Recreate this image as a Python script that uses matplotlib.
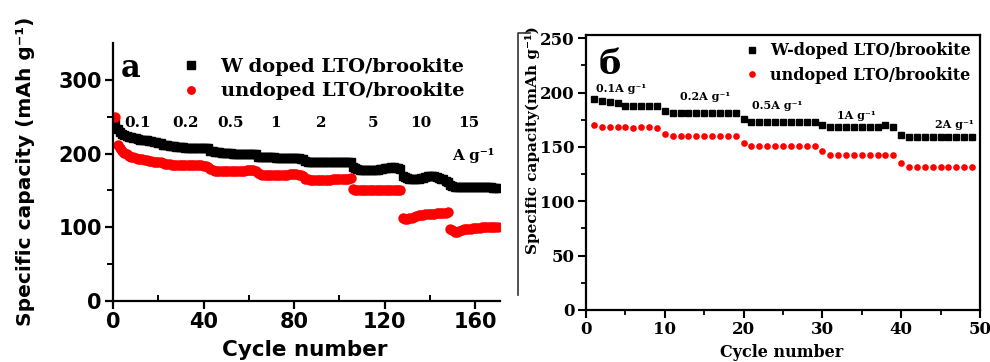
import matplotlib
matplotlib.use("Agg")
import matplotlib.pyplot as plt
from matplotlib.lines import Line2D

# ---- panel a: long cycling at increasing current density ----
cycles_a = list(range(1, 171))

w_doped_a = [
    # 0.1 A/g (1-21)
    240, 233, 229, 227, 225, 224, 223, 222, 221, 221, 220, 219, 219, 218, 218,
    217, 217, 216, 216, 215, 215,
    # 0.2 A/g (22-42)
    212, 211, 211, 210, 210, 210, 209, 209, 209, 209, 208, 208, 208, 208, 208,
    207, 207, 207, 207, 207, 207,
    # 0.5 A/g (43-63)
    204, 203, 202, 202, 202, 201, 201, 201, 201, 201, 200, 200, 200, 200, 200,
    200, 200, 200, 199, 199, 199,
    # 1 A/g (64-84)
    196, 195, 195, 195, 195, 195, 195, 195, 194, 194, 194, 194, 194, 194, 194,
    194, 194, 194, 194, 193, 193,
    # 2 A/g (85-105)
    190, 189, 189, 189, 189, 189, 189, 189, 189, 189, 189, 189, 188, 188, 188,
    188, 188, 188, 188, 188, 188,
    # 5 A/g (106-127)
    182, 180, 179, 178, 178, 178, 178, 178, 178, 178, 178, 178, 179, 179, 180,
    180, 181, 182, 182, 181, 180, 179,
    # 10 A/g (128-148)
    170, 168, 167, 166, 166, 166, 166, 166, 167, 167, 168, 169, 170, 170, 169,
    168, 167, 166, 165, 163, 161,
    # 15 A/g (149-170)
    158, 156, 155, 155, 155, 155, 155, 154, 154, 154, 154, 154, 154, 154, 154,
    154, 154, 154, 154, 153, 153, 153,
]

undoped_a = [
    249, 212, 207, 204, 201, 199, 197, 196, 195, 194, 193, 192, 192, 191, 191,
    190, 190, 189, 189, 188, 188,
    187, 186, 186, 186, 185, 185, 185, 185, 185, 185, 185, 185, 185, 184, 184,
    184, 184, 184, 183, 183, 182,
    179, 178, 177, 177, 176, 176, 176, 176, 176, 176, 176, 176, 176, 177, 177,
    177, 178, 178, 178, 178, 177,
    173, 172, 171, 171, 171, 171, 171, 171, 171, 171, 171, 171, 171, 171, 172,
    172, 172, 172, 171, 171, 170,
    166, 165, 164, 164, 164, 164, 164, 164, 164, 164, 164, 164, 165, 165, 165,
    165, 165, 166, 166, 166, 167,
    152, 151, 150, 150, 150, 150, 150, 150, 150, 150, 150, 150, 150, 150, 150,
    150, 150, 150, 150, 150, 151, 151,
    112, 111, 111, 112, 113, 114, 115, 116, 117, 117, 118, 118, 118, 118, 118,
    119, 119, 119, 120, 120, 121,
    98, 96, 94, 94, 95, 96, 97, 97, 98, 98, 99, 99, 99, 99, 100,
    100, 100, 100, 100, 101, 101, 101,
]

rates_a = ["0.1", "0.2", "0.5", "1", "2", "5", "10", "15"]
rate_pos_a = [11, 32, 52, 72, 92, 115, 136, 157]

# ---- panel б: rate test, 10 cycles per current ----
cycles_b = list(range(1, 50))

w_doped_b = [
    194, 192, 191, 190, 188, 188, 188, 188, 188,
    183, 181, 181, 181, 181, 181, 181, 181, 181, 181,
    176, 173, 173, 173, 173, 173, 173, 173, 173, 173,
    170, 168, 168, 168, 168, 168, 168, 168, 170, 168,
    161, 159, 159, 159, 159, 159, 159, 159, 159, 159,
]

undoped_b = [
    170, 168, 168, 168, 168, 167, 168, 168, 167,
    162, 160, 160, 160, 160, 160, 160, 160, 160, 160,
    154, 151, 151, 151, 151, 151, 151, 151, 151, 151,
    146, 143, 143, 143, 143, 143, 143, 143, 143, 143,
    135, 132, 132, 132, 132, 132, 132, 132, 132, 132,
]

rates_b = ["0.1A g⁻¹", "0.2A g⁻¹", "0.5A g⁻¹", "1A g⁻¹", "2A g⁻¹"]
rate_x_b = [1.3, 11.9, 21.1, 31.9, 44.3]
rate_y_b = [204, 196, 188, 179, 171]

SANS = "DejaVu Sans"
SERIF = "DejaVu Serif"

fig = plt.figure(figsize=(9.9, 3.62), dpi=100)

# ---------------- panel a ----------------
ax1 = fig.add_axes([113 / 990, 1 - 301 / 362, 387 / 990, 258 / 362])
ax1.plot(cycles_a, w_doped_a, ls="none", marker="s", ms=6, color="black",
         label="W doped LTO/brookite")
ax1.plot(cycles_a, undoped_a, ls="none", marker="o", ms=7.5, mec="none", color="#ff0000",
         label="undoped LTO/brookite")
ax1.set_xlim(0, 171)
ax1.set_ylim(0, 350)
ax1.set_xticks([0, 40, 80, 120, 160])
ax1.set_xticks([20, 60, 100, 140], minor=True)
ax1.set_yticks([0, 100, 200, 300])
ax1.set_yticks([50, 150, 250], minor=True)
for s in ["top", "right"]:
    ax1.spines[s].set_visible(False)
for s in ["left", "bottom"]:
    ax1.spines[s].set_linewidth(1.6)
ax1.tick_params(which="major", direction="out", length=6, width=1.6, pad=2)
ax1.tick_params(which="minor", length=4, width=1.4)
ax1.tick_params(axis="x", which="minor", direction="in")
for lab in ax1.get_xticklabels() + ax1.get_yticklabels():
    lab.set_fontfamily(SANS)
    lab.set_fontweight("bold")
    lab.set_fontsize(15)
ax1.set_ylabel("Specific capacity (mAh g⁻¹)", family=SANS, fontweight="bold",
               fontsize=14.5, va="center")
ax1.yaxis.set_label_coords(-0.227, 0.504)
ax1.set_xlabel("Cycle number", family=SANS, fontweight="bold", fontsize=15.5, va="center")
ax1.xaxis.set_label_coords(0.496, -0.19)

for r, x in zip(rates_a, rate_pos_a):
    ax1.text(x, 241, r, ha="center", va="center", family=SERIF,
             fontweight="bold", fontsize=11)
ax1.text(159, 198, "A g⁻¹", ha="center", va="center", family=SERIF,
         fontweight="bold", fontsize=11)
ax1.text(3.5, 316, "a", ha="left", va="center", family=SERIF,
         fontweight="bold", fontsize=22)
ax1.legend(loc="center left", bbox_to_anchor=(172 / 990, 1 - 79 / 362),
           bbox_transform=fig.transFigure, frameon=False, handlelength=1.0,
           handletextpad=1.0, labelspacing=0.35, borderpad=0, markerscale=0.85,
           prop={"family": SERIF, "weight": "bold", "size": 14})

# ---------------- panel б ----------------
ax2 = fig.add_axes([586 / 990, 1 - 310 / 362, 394 / 990, 275 / 362])
ax2.plot(cycles_b, w_doped_b, ls="none", marker="s", ms=4.2, color="black",
         label="W-doped LTO/brookite")
ax2.plot(cycles_b, undoped_b, ls="none", marker="o", ms=4.8, mec="none", color="#ff0000",
         label="undoped LTO/brookite")
ax2.set_xlim(0, 50)
ax2.set_ylim(0, 253)
ax2.set_xticks(range(0, 51, 10))
ax2.set_xticks(range(5, 50, 10), minor=True)
ax2.set_yticks(range(0, 251, 50))
ax2.set_yticks(range(25, 250, 50), minor=True)
for s in ax2.spines.values():
    s.set_linewidth(1.6)
ax2.tick_params(which="major", direction="out", length=6, width=1.5, pad=2)
ax2.tick_params(which="minor", direction="out", length=3.5, width=1.3)
for lab in ax2.get_xticklabels() + ax2.get_yticklabels():
    lab.set_fontfamily(SERIF)
    lab.set_fontweight("bold")
    lab.set_fontsize(12)
ax2.set_ylabel("Specific capacity(mAh g⁻¹)", family=SERIF, fontweight="bold",
               fontsize=11, va="center")
ax2.yaxis.set_label_coords(-0.135, 0.618)
ax2.set_xlabel("Cycle number", family=SERIF, fontweight="bold", fontsize=11.5, va="center")
ax2.xaxis.set_label_coords(0.497, -0.153)

for r, x, y in zip(rates_b, rate_x_b, rate_y_b):
    ax2.text(x, y, r, ha="left", va="center", family=SERIF,
             fontweight="bold", fontsize=8)
ax2.text(1.6, 226, "б", ha="left", va="center", family=SERIF,
         fontweight="bold", fontsize=24)
ax2.legend(loc="center left", bbox_to_anchor=(738 / 990, 1 - 63 / 362),
           bbox_transform=fig.transFigure, frameon=False, handlelength=0.8,
           handletextpad=0.7, labelspacing=0.45, borderpad=0,
           prop={"family": SERIF, "weight": "bold", "size": 11.5})

# thin bracket line left of panel б
fig.add_artist(Line2D([518 / 990, 518 / 990, 530 / 990],
                      [1 - 295 / 362, 1 - 33 / 362, 1 - 33 / 362],
                      transform=fig.transFigure, color="#333333", lw=1.2))

fig.savefig("out.png", dpi=100)
